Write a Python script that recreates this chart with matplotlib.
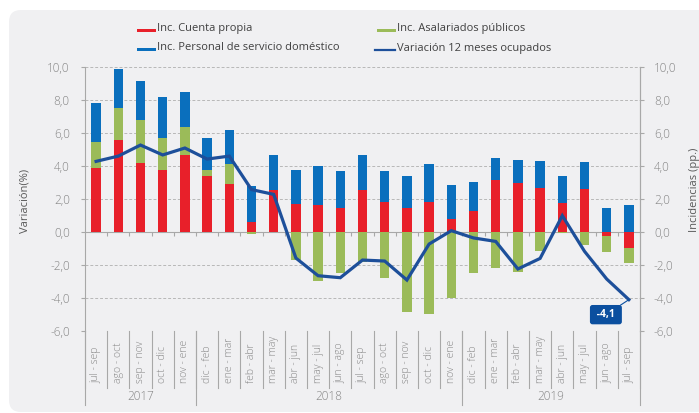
import matplotlib
matplotlib.use('Agg')
import matplotlib.pyplot as plt
from matplotlib.patches import FancyBboxPatch, Rectangle
from matplotlib.lines import Line2D
from matplotlib.ticker import FuncFormatter
from matplotlib.transforms import blended_transform_factory
import numpy as np

plt.rcParams['font.family'] = ['Open Sans', 'DejaVu Sans']

# datos
periodos = ["jul - sep", "ago - oct", "sep - nov", "oct - dic", "nov - ene",
            "dic - feb", "ene - mar", "feb - abr", "mar - may", "abr - jun",
            "may - jul", "jun - ago", "jul - sep", "ago - oct", "sep - nov",
            "oct - dic", "nov - ene", "dic - feb", "ene - mar", "feb - abr",
            "mar - may", "abr - jun", "may - jul", "jun - ago", "jul - sep"]
anios = ["2017", "2018", "2019"]
n_por_anio = [5, 12, 8]

cuenta_propia = [3.88, 5.58, 4.18, 3.76, 4.65, 3.37, 2.91, 0.63, 2.53, 1.70,
                 1.66, 1.43, 2.53, 1.80, 1.45, 1.80, 0.81, 1.25, 3.15, 2.95,
                 2.67, 1.74, 2.63, -0.22, -0.99]
asal_publicos = [1.55, 1.94, 2.61, 1.96, 1.73, 0.39, 1.21, -0.14, -0.03, -1.72,
                 -2.99, -2.48, -1.84, -2.77, -4.87, -4.99, -4.02, -2.46, -2.20, -2.40,
                 -1.13, -0.08, -0.77, -0.97, -0.89]
serv_domestico = [2.39, 2.36, 2.38, 2.44, 2.08, 1.94, 2.06, 2.16, 2.16, 2.06,
                  2.32, 2.27, 2.14, 1.92, 1.92, 2.30, 2.02, 1.78, 1.33, 1.41,
                  1.63, 1.67, 1.59, 1.45, 1.64]
var_ocupados = [4.28, 4.60, 5.27, 4.67, 5.09, 4.42, 4.60, 2.57, 2.28, -1.58,
                -2.65, -2.77, -1.70, -1.76, -2.91, -0.73, 0.08, -0.36, -0.57, -2.24,
                -1.60, 0.99, -1.17, -2.85, -4.10]

c_rojo = "#e8202a"
c_verde = "#9bbb59"
c_azul = "#0a6fbd"
c_linea = "#1d4f9a"
c_gris = "#858585"
c_eje = "#a8a8a8"

W, H = 699, 413
fig = plt.figure(figsize=(W / 100, H / 100), dpi=100)
fig.patch.set_facecolor("white")


def fx(px):
    return px / W


def fy(py):
    return 1 - py / H


# panel gris redondeado
panel = FancyBboxPatch((9, 1), 720, 402, boxstyle="round,pad=0,rounding_size=12",
                       transform=None, fc="#f0f0f2", ec="none", zorder=-10)
fig.add_artist(panel)

ax = fig.add_axes([fx(85), fy(331), fx(640) - fx(85), fy(67) - fy(331)])
ax.set_facecolor("none")
x = np.arange(len(periodos))

# barras apiladas (positivos hacia arriba, negativos hacia abajo)
pos = np.zeros(len(x))
neg = np.zeros(len(x))
for vals, col in [(cuenta_propia, c_rojo), (asal_publicos, c_verde), (serv_domestico, c_azul)]:
    v = np.array(vals)
    base = np.where(v >= 0, pos, neg)
    ax.bar(x, v, 0.42, bottom=base, color=col, zorder=3)
    pos += np.clip(v, 0, None)
    neg += np.clip(v, None, 0)

ax.plot(x, var_ocupados, color=c_linea, lw=2.3, zorder=4, solid_joinstyle="miter")

ax.set_xlim(-0.5, len(x) - 0.5)
ax.set_ylim(-6, 10)
yt = list(range(-6, 11, 2))
for y in yt:
    if y != 0:
        ax.axhline(y, color="#b8b8b8", lw=0.7, ls=(0, (3, 2)), zorder=0)
ax.axhline(0, color=c_eje, lw=0.8, zorder=1)

fmt = FuncFormatter(lambda v, p: f"{v:.1f}".replace(".", ","))
ax.set_yticks(yt)
ax.yaxis.set_major_formatter(fmt)
ax.tick_params(axis="y", length=3, color=c_eje, labelcolor=c_gris, labelsize=8.5, pad=8)

# eje x en cero con marcas entre categorias
ax.spines["bottom"].set_position(("data", 0))
ax.spines["bottom"].set_visible(False)
ax.spines["top"].set_visible(False)
ax.set_xticks(x[:-1] + 0.5)
ax.tick_params(axis="x", length=3, color=c_eje, labelbottom=False, direction="out")
for s in ["left", "right"]:
    ax.spines[s].set_color(c_eje)
    ax.spines[s].set_linewidth(0.8)

ax2 = ax.twinx()
ax2.set_ylim(-6, 10)
ax2.set_yticks(yt)
ax2.yaxis.set_major_formatter(fmt)
ax2.tick_params(axis="y", length=3, color=c_eje, labelcolor=c_gris, labelsize=8.5, pad=7)
for s in ["top", "bottom", "left"]:
    ax2.spines[s].set_visible(False)
ax2.spines["right"].set_color(c_eje)
ax2.spines["right"].set_linewidth(0.8)
for lab in ax.get_yticklabels() + ax2.get_yticklabels():
    lab.set_fontweight("light")

# etiquetas de categorias de dos niveles
tr = blended_transform_factory(ax.transData, ax.transAxes)
for i, p in enumerate(periodos):
    ax.text(i, -0.197, p, rotation=90, ha="center", va="bottom", transform=tr,
            color=c_gris, fontsize=7.5, fontweight="light")
for b in np.arange(-0.5, len(x), 1.0):
    ax.plot([b, b], [0, -0.216], transform=tr, color=c_eje, lw=0.8, clip_on=False)
limites = np.concatenate([[0], np.cumsum(n_por_anio)]) - 0.5
for b in limites:
    ax.plot([b, b], [0, -0.28], transform=tr, color=c_eje, lw=0.8, clip_on=False)
for a, l0, l1 in zip(anios, limites[:-1], limites[1:]):
    ax.text((l0 + l1) / 2, -0.25, a, ha="center", va="center", transform=tr,
            color=c_gris, fontsize=8.5, fontweight="light")

# etiqueta del ultimo valor
ax.annotate(" " + f"{var_ocupados[-1]:.1f}".replace(".", ",") + " ",
            xy=(x[-1], var_ocupados[-1]), xytext=(-23, -15), textcoords="offset pixels",
            ha="center", va="center", color="white", fontweight="bold", fontsize=7.5,
            bbox=dict(boxstyle="round,pad=0.4,rounding_size=0.25", fc="#0b4f9f", ec="none"),
            arrowprops=dict(arrowstyle="-", color="#0b4f9f", lw=0.8, shrinkA=0, shrinkB=0),
            zorder=6)

# titulos de ejes
fig.text(fx(25), fy(201), "Variación(%)", rotation=90, ha="center", va="center",
         color="#595959", fontsize=8)
fig.text(fx(694), fy(190), "Incidencias (pp.)", rotation=90, ha="center", va="center",
         color="#595959", fontsize=8)

# leyenda
items = [(137, 29, "Inc. Cuenta propia", c_rojo, "bar"),
         (377, 29, "Inc. Asalariados públicos", c_verde, "bar"),
         (137, 48, "Inc. Personal de servicio doméstico", c_azul, "bar"),
         (377, 48, "Variación 12 meses ocupados", c_linea, "line")]
for px, py, txt, col, kind in items:
    if kind == "bar":
        fig.add_artist(Rectangle((fx(px), fy(py + 3)), fx(19), 3.5 / H,
                                 transform=fig.transFigure, fc=col, ec="none"))
    else:
        fig.add_artist(Line2D([fx(px - 2), fx(px + 18)], [fy(py + 1.5)] * 2,
                              transform=fig.transFigure, color=col, lw=1.6))
    fig.text(fx(px + 20), fy(py), txt, ha="left", va="center", color="#404040", fontsize=8)

fig.savefig("out.png", dpi=100)
